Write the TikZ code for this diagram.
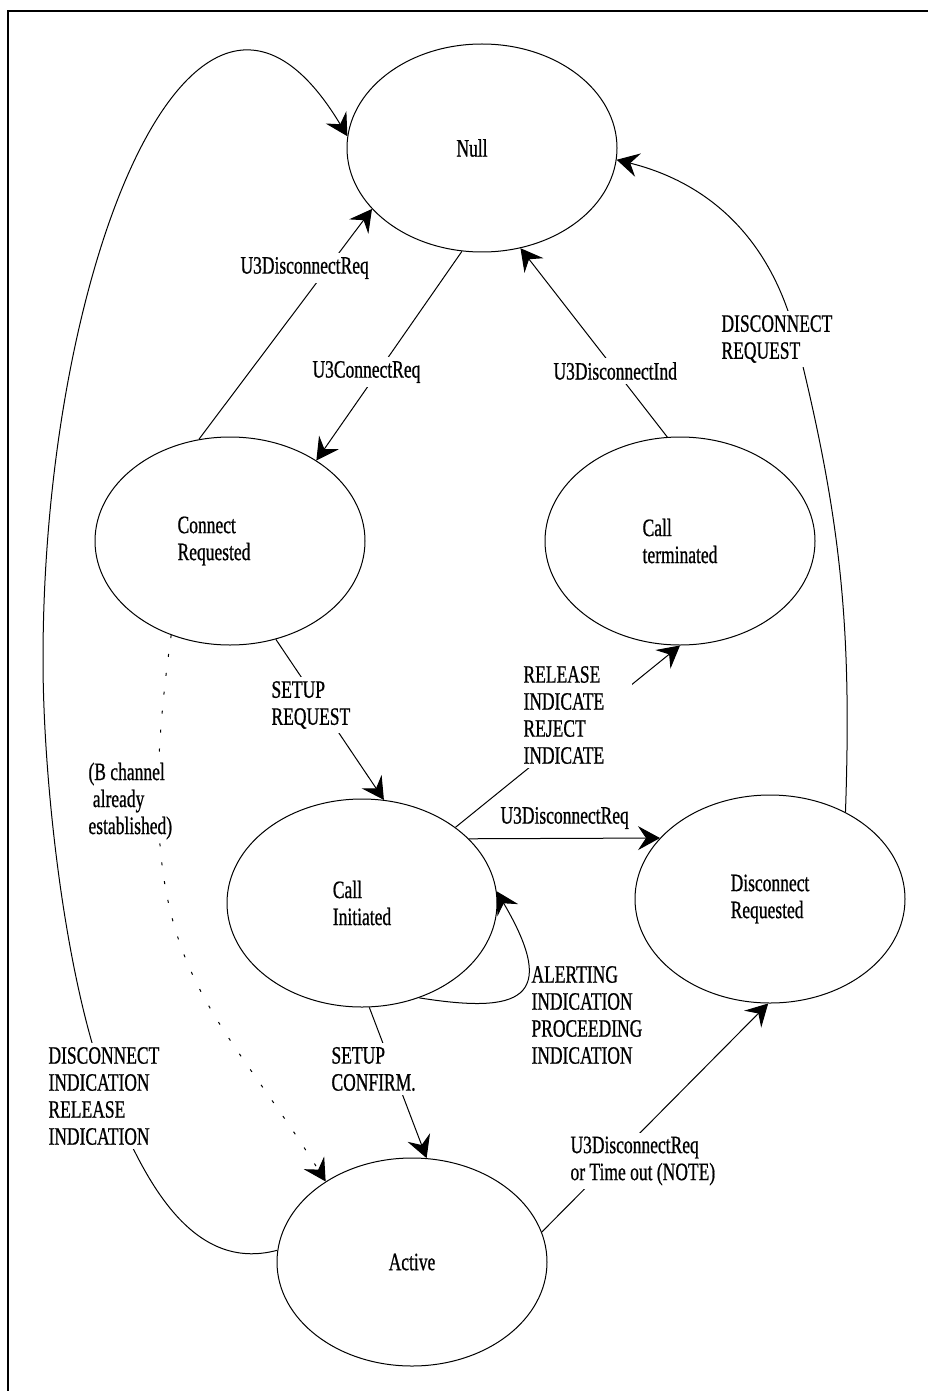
\documentclass[tikz,border=0pt]{standalone}
\usepackage{fontspec}
\setmainfont{Liberation Serif}[FakeStretch=0.7,FakeBold=0.7]
\usepackage{tikz}
\usetikzlibrary{arrows.meta,shapes.geometric}
\tikzstyle{state}=[draw,ellipse,minimum width=135pt,minimum height=104pt,inner sep=0pt,align=left]
\tikzstyle{cond}=[fill=white,align=left,inner sep=2pt,anchor=west]
\tikzstyle{trans}=[-{Stealth[length=11pt,width=12pt,inset=4pt]}]

\begin{document}
\begin{tikzpicture}[x=0.5pt,y=-0.5pt,line width=0.5pt,font=\fontsize{12.5}{13.5}\selectfont]
\useasboundingbox (0,0) rectangle (928,1391);
% frame
\draw[line width=1pt] (8,1391) -- (8,11) -- (928,11);

% states
\node[state] (null) at (482,148) {Null\hspace*{10pt}};
\node[state] (conreq) at (230,541) {Connect\\Requested\hspace*{16pt}};
\node[state] (callterm) at (680,541) {Call\\terminated};
\node[state] (callinit) at (362,903) {Call\\Initiated};
\node[state] (discreq) at (770,899) {Disconnect\\Requested};
\node[state] (active) at (412,1262) {Active};

% points the long curves run through
\coordinate (farleft) at (43,660);
\coordinate (discind) at (110,1096);
\coordinate (discreqpt) at (796,338);

% transitions
\draw[trans] (conreq.107) -- (null.209);
\draw[trans] (null.259) -- (conreq.43);
\draw[trans] (callterm.97) -- (null.291);
\draw[trans] (discreq.49) to[out=88,in=-76] (discreqpt) to[out=104,in=-14] (null.-5);
\draw[trans] (callinit.39) -- (callterm.270);
\draw[trans] (callinit.31) -- (discreq.151);
\draw[trans] (conreq.295) -- (callinit.78);
\draw[trans] (callinit.274) -- (active.82);
\draw[trans] (active.13) -- (discreq.269);
\draw[trans] (callinit.-59) .. controls +(100,16) and +(64,109) .. (callinit.5);
\draw[trans] (active.175) to[out=195,in=-68] (discind)
  to[out=112,in=-90,looseness=.7] (farleft)
  .. controls +(0,-400) and +(-150,-250) .. (null.175);
\draw[trans,dash pattern=on 1.5pt off 8pt] (conreq.238) to[out=262,in=122,out looseness=1.5] (active.137);

% conditions, drawn last so they blank out the lines under them
\node[cond] (c1) at (236,268) {U3DisconnectReq};
\node[cond] (c2) at (308,372) {U3ConnectReq};
\node[cond] (c3) at (549,371) {U3DisconnectInd};
\node[cond] (c4) at (717,339) {DISCONNECT\\REQUEST};
\node[cond] (c5) at (267,705) {SETUP\\REQUEST};
\node[cond,inner xsep=14pt] (c6) at (495,715) {RELEASE\\INDICATE\\REJECT\\INDICATE};
\node[cond,fill=none] (c7) at (496,818) {U3DisconnectReq};
\node[cond] (c8) at (84,801) {(B channel\\\ already\\established)};
\node[cond,fill=none] (c9) at (527,1015) {ALERTING\\INDICATION\\PROCEEDING\\INDICATION};
\node[cond] (c10) at (44,1096) {DISCONNECT\\INDICATION\\RELEASE\\INDICATION};
\node[cond] (c11) at (327,1069) {SETUP\\CONFIRM.};
\node[cond] (c12) at (566,1161) {U3DisconnectReq\\or Time out (NOTE)};
\end{tikzpicture}
\end{document}
